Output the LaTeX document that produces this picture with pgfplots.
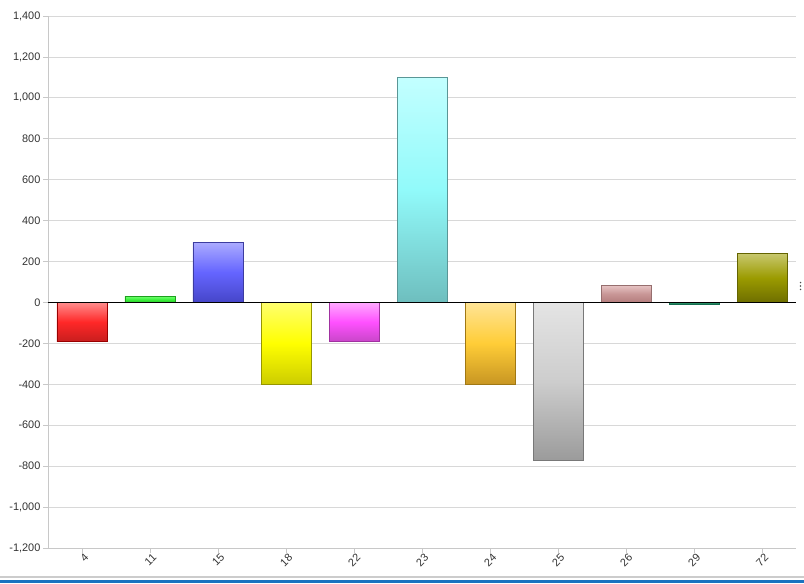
\documentclass[border=0pt]{standalone}
\usepackage{fontspec}
\setmainfont{Liberation Sans}
\usepackage{pgfplots}
\pgfplotsset{compat=1.18}
\definecolor{gridc}{HTML}{D8D8D8}
\definecolor{axc}{HTML}{C8C8C8}
\definecolor{txt}{HTML}{333333}
\definecolor{blueline}{HTML}{1A73C0}
\begin{document}
\begin{tikzpicture}
\begin{axis}[
  name=ax,
  at={(0,0)}, anchor=south west,
  scale only axis,
  width=561pt, height=399pt,
  xmin=-0.5, xmax=10.5,
  ymin=-1200, ymax=1400,
  ytick={-1200,-1000,...,1400},
  xtick={0,...,10},
  xticklabels={4,11,15,18,22,23,24,25,26,29,72},
  axis x line*=bottom, axis y line*=left,
  axis line style={axc, -},
  ymajorgrids, grid style={gridc, line width=0.6pt},
  major tick length=3.5pt,
  tick style={axc, line width=0.6pt},
  xtick pos=bottom, ytick pos=left,
  tick align=outside,
  /pgf/number format/assume math mode=true,
  /pgf/number format/1000 sep={,},
  ticklabel style={font=\fontsize{8.2pt}{9pt}\selectfont, text=txt},
  xticklabel style={rotate=45, anchor=north east, inner sep=1pt, xshift=2pt},
  yticklabel style={inner sep=2pt},
  ybar, bar width=37.5pt, bar shift=0pt,
  clip=false,
]
\addplot[draw=red!60!black, top color={rgb,255:red,255;green,140;blue,140}, bottom color={rgb,255:red,200;green,30;blue,30}, middle color={rgb,255:red,255;green,40;blue,40}] coordinates {(0,-190)};
\addplot[draw={rgb,255:red,30;green,160;blue,30}, top color={rgb,255:red,110;green,255;blue,110}, bottom color={rgb,255:red,40;green,200;blue,40}, middle color={rgb,255:red,60;green,240;blue,60}] coordinates {(1,30)};
\addplot[draw={rgb,255:red,60;green,60;blue,160}, top color={rgb,255:red,170;green,170;blue,255}, bottom color={rgb,255:red,70;green,70;blue,200}, middle color={rgb,255:red,100;green,100;blue,255}] coordinates {(2,292)};
\addplot[draw={rgb,255:red,150;green,150;blue,0}, top color={rgb,255:red,255;green,255;blue,110}, bottom color={rgb,255:red,205;green,205;blue,0}, middle color={rgb,255:red,255;green,255;blue,0}] coordinates {(3,-398)};
\addplot[draw={rgb,255:red,160;green,50;blue,160}, top color={rgb,255:red,255;green,170;blue,255}, bottom color={rgb,255:red,200;green,70;blue,200}, middle color={rgb,255:red,255;green,80;blue,255}] coordinates {(4,-192)};
\addplot[draw={rgb,255:red,90;green,150;blue,150}, top color={rgb,255:red,195;green,255;blue,255}, bottom color={rgb,255:red,110;green,190;blue,190}, middle color={rgb,255:red,145;green,250;blue,250}] coordinates {(5,1100)};
\addplot[draw={rgb,255:red,160;green,120;blue,20}, top color={rgb,255:red,255;green,228;blue,150}, bottom color={rgb,255:red,200;green,150;blue,35}, middle color={rgb,255:red,255;green,205;blue,55}] coordinates {(6,-398)};
\addplot[draw={rgb,255:red,120;green,120;blue,120}, top color={rgb,255:red,228;green,228;blue,228}, bottom color={rgb,255:red,155;green,155;blue,155}, middle color={rgb,255:red,205;green,205;blue,205}] coordinates {(7,-770)};
\addplot[draw={rgb,255:red,150;green,110;blue,110}, top color={rgb,255:red,230;green,195;blue,195}, bottom color={rgb,255:red,180;green,125;blue,125}, middle color={rgb,255:red,200;green,150;blue,150}] coordinates {(8,83)};
\addplot[draw={rgb,255:red,20;green,110;blue,80}, fill={rgb,255:red,40;green,140;blue,100}] coordinates {(9,-10)};
\addplot[draw={rgb,255:red,100;green,100;blue,0}, top color={rgb,255:red,200;green,200;blue,110}, bottom color={rgb,255:red,110;green,110;blue,0}, middle color={rgb,255:red,155;green,155;blue,0}] coordinates {(10,240)};
\draw[black, line width=0.8pt] (axis cs:-0.5,0) -- (axis cs:10.5,0);
\end{axis}
\fill[gray!40!white] ([shift={(-36pt,-22.5pt)}]ax.south west) rectangle ([shift={(6pt,-21pt)}]ax.south east);
\fill[blueline] ([shift={(-36pt,-26.5pt)}]ax.south west) rectangle ([shift={(6pt,-24pt)}]ax.south east);
\foreach \d in {-2.6pt,0pt,2.6pt}{\fill[gray!60!black] ([shift={(3.4pt,\d-3pt)}]ax.east) circle (0.6pt);}
\pgfresetboundingbox
\path ([shift={(-36pt,-27pt)}]ax.south west) rectangle ([shift={(6pt,12pt)}]ax.north east);
\end{tikzpicture}
\end{document}
